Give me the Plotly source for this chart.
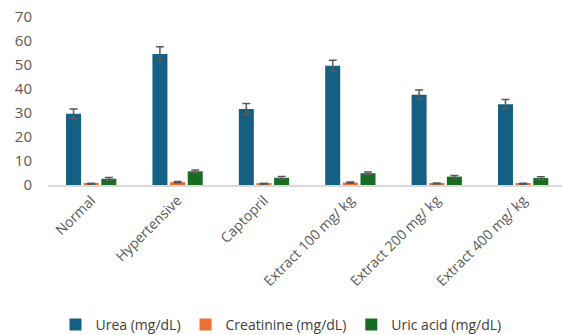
import plotly.graph_objects as go

# Group labels and measured means / standard errors
groups = ["Normal", "Hypertensive", "Captopril", "Extract 100 mg/ kg",
          "Extract 200 mg/ kg", "Extract 400 mg/ kg"]
urea = [29.7, 54.6, 31.7, 49.7, 37.6, 33.6]
urea_err = [2.0, 3.0, 2.3, 2.3, 2.0, 2.0]
creatinine = [0.5, 1.2, 0.5, 1.0, 0.6, 0.5]
creatinine_err = [0.2, 0.3, 0.2, 0.3, 0.2, 0.2]
uric_acid = [2.6, 5.7, 3.0, 4.9, 3.5, 2.9]
uric_acid_err = [0.5, 0.5, 0.5, 0.5, 0.5, 0.5]
y_ticks = [0, 10, 20, 30, 40, 50, 60, 70]

series = [
    ("Urea (mg/dL)", urea, urea_err, "#156082"),
    ("Creatinine (mg/dL)", creatinine, creatinine_err, "#E97132"),
    ("Uric acid (mg/dL)", uric_acid, uric_acid_err, "#196B24"),
]

fig = go.Figure()
for name, vals, errs, color in series:
    fig.add_trace(go.Bar(
        x=groups, y=vals, name=name,
        marker=dict(color=color, line=dict(width=0)),
        error_y=dict(type="data", array=errs, visible=True,
                     color="#595959", thickness=1.5, width=4),
    ))

font_family = "Open Sans, Liberation Sans, Arial, sans-serif"
fig.update_layout(
    width=562, height=335,
    margin=dict(l=48, r=0, t=17, b=150),
    paper_bgcolor="white", plot_bgcolor="white",
    barmode="group", bargap=0.387, bargroupgap=0.15,
    font=dict(family=font_family, color="#595959", size=13),
    showlegend=True,
    legend=dict(orientation="h", xref="container", x=0.5, xanchor="center",
                yref="container", y=0.03, yanchor="middle",
                font=dict(size=14, color="#404040"),
                itemwidth=30, traceorder="normal"),
    xaxis=dict(type="category", range=[-0.5, 5.45], tickangle=-45,
               showline=True, linecolor="#D9D9D9", linewidth=1.5,
               showgrid=False, ticks="", tickfont=dict(size=14, color="#595959")),
    yaxis=dict(range=[0, 70], tickvals=y_ticks, showgrid=False,
               zeroline=False, showline=False, ticks="outside",
               ticklen=12, tickcolor="rgba(0,0,0,0)",
               tickfont=dict(size=15, color="#595959")),
)

fig.write_html("out.html")
